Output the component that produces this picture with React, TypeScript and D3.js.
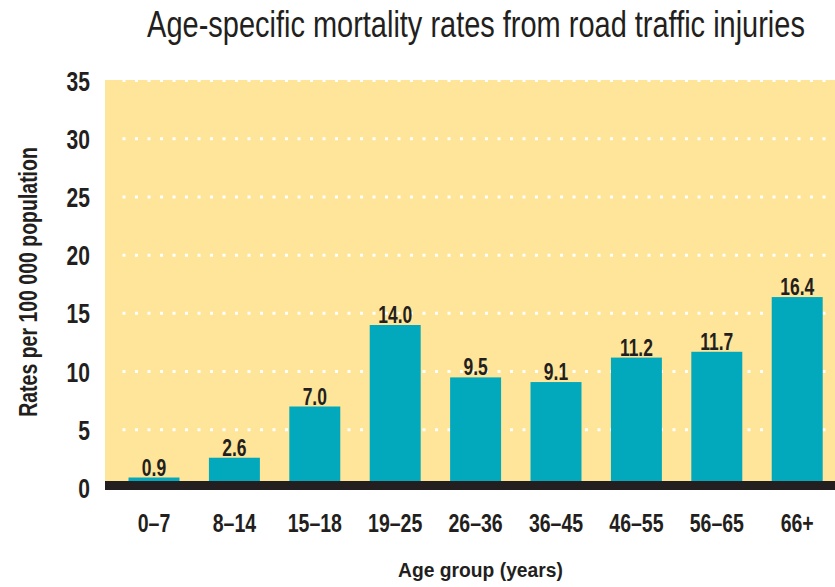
import * as d3 from "d3";

const ageGroups = ["0–7", "8–14", "15–18", "19–25", "26–36", "36–45", "46–55", "56–65", "66+"];
const rates = [0.9, 2.6, 7.0, 14.0, 9.5, 9.1, 11.2, 11.7, 16.4];
const yTicks = [0, 5, 10, 15, 20, 25, 30, 35];

const width = 835;
const height = 587;
const plotLeft = 105;
const plotRight = 835;
const plotTop = 80;
const zeroY = 488;

const ink = "#231f20";
const font = "'Liberation Sans', Arial, sans-serif";

export default function App() {
  const x = d3.scaleBand<string>()
    .domain(ageGroups)
    .range([113.8, 837.4])
    .paddingInner(0.366)
    .paddingOuter(0.183);
  const y = d3.scaleLinear().domain([0, 35]).range([zeroY, 80.5]);

  return (
    <svg width={width} height={height} style={{ position: "absolute", left: 0, top: 0 }}>
      <rect width={width} height={height} fill="#fff" />
      {/* condensed look: squeeze the glyphs horizontally */}
      <text
        transform="translate(476,37) scale(0.783,1)"
        textAnchor="middle"
        fontFamily={font}
        fontSize={37}
        fill={ink}
      >
        Age-specific mortality rates from road traffic injuries
      </text>

      <rect x={plotLeft} y={plotTop} width={plotRight - plotLeft} height={zeroY - plotTop} fill="#fee599" />

      {yTicks.filter(t => t > 0).map(t => (
        <line
          key={t}
          x1={122.5}
          x2={plotRight}
          y1={y(t)}
          y2={y(t)}
          stroke="#fff"
          strokeWidth={3}
          strokeDasharray="3 9.5"
        />
      ))}

      {rates.map((v, i) => (
        <rect
          key={ageGroups[i]}
          x={x(ageGroups[i])}
          y={y(v)}
          width={x.bandwidth()}
          height={zeroY - y(v)}
          fill="#02a9bc"
        />
      ))}

      <rect x={plotLeft} y={zeroY - 7} width={plotRight - plotLeft} height={9} fill={ink} />

      {rates.map((v, i) => (
        <text
          key={"v" + i}
          transform={`translate(${(x(ageGroups[i]) as number) + x.bandwidth() / 2},${y(v) - 2}) scale(0.76,1)`}
          textAnchor="middle"
          fontFamily={font}
          fontWeight="bold"
          fontSize={23}
          fill={ink}
        >
          {v.toFixed(1)}
        </text>
      ))}

      {yTicks.map(t => (
        <text
          key={"t" + t}
          transform={`translate(90,${y(t) + 10}) scale(0.78,1)`}
          textAnchor="end"
          fontFamily={font}
          fontWeight="bold"
          fontSize={27}
          fill={ink}
        >
          {t}
        </text>
      ))}

      {ageGroups.map(g => (
        <text
          key={"x" + g}
          transform={`translate(${(x(g) as number) + x.bandwidth() / 2},532) scale(0.78,1)`}
          textAnchor="middle"
          fontFamily={font}
          fontWeight="bold"
          fontSize={25}
          fill={ink}
        >
          {g}
        </text>
      ))}

      <text
        transform="translate(480.5,577) scale(0.918,1)"
        textAnchor="middle"
        fontFamily={font}
        fontWeight="bold"
        fontSize={21}
        fill={ink}
      >
        Age group (years)
      </text>

      <text
        transform="translate(37,282) rotate(-90) scale(0.75,1)"
        textAnchor="middle"
        fontFamily={font}
        fontWeight="bold"
        fontSize={26}
        fill={ink}
      >
        Rates per 100 000 population
      </text>
    </svg>
  );
}
